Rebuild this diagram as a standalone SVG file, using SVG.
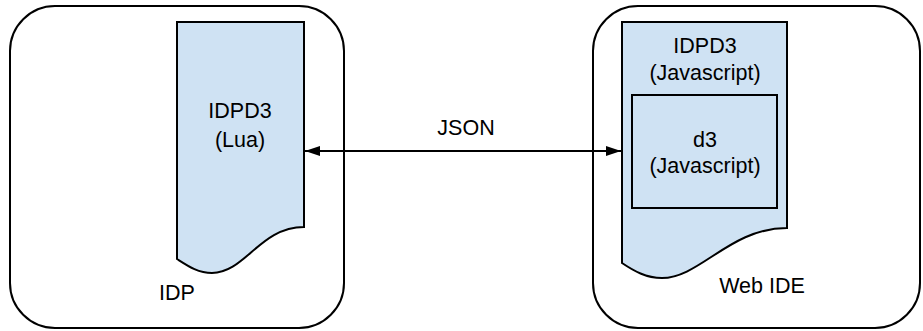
<svg xmlns="http://www.w3.org/2000/svg" width="923" height="331" viewBox="0 0 923 331">
<defs>
<style>
.box{fill:#fff;stroke:#000;stroke-width:2}
.doc{fill:#cfe2f3;stroke:#000;stroke-width:2}
text{font-family:"Liberation Sans",Arial,sans-serif;font-size:21.5px;fill:#000;text-anchor:middle}
.conn{stroke:#000;stroke-width:2;fill:none}
</style>
<marker id="ah" viewBox="0 0 15 10" refX="15" refY="5" markerWidth="15" markerHeight="10" markerUnits="userSpaceOnUse" orient="auto-start-reverse">
<path d="M0,0 L15,5 L0,10 Z" fill="#000"/>
</marker>
</defs>
<g id="idp">
<rect class="box" x="10" y="6" width="334" height="322" rx="45" ry="45"/>
<text x="177" y="300">IDP</text>
</g>
<g id="webide">
<rect class="box" x="593" y="6" width="327" height="322" rx="45" ry="45"/>
<text x="762" y="293">Web IDE</text>
</g>
<g id="idpd3-lua">
<path class="doc" d="M177,22 H304 V227 C260,227 245,273 212,273 C198,273 188,266 177,259 Z"/>
<text x="240" y="118">IDPD3</text>
<text x="240" y="147">(Lua)</text>
</g>
<g id="idpd3-js">
<path class="doc" d="M622,22 H787 V228 C730,228 700,278 662,278 C646,278 634,271 622,263 Z"/>
<text x="705" y="53">IDPD3</text>
<text x="705" y="80">(Javascript)</text>
</g>
<g id="d3-js">
<rect class="doc" x="632" y="95" width="145" height="113"/>
<text x="705" y="147">d3</text>
<text x="705" y="173">(Javascript)</text>
</g>
<g id="connectors">
<line class="conn" x1="305" y1="151" x2="621" y2="151" marker-start="url(#ah)" marker-end="url(#ah)"/>
<text x="466" y="135">JSON</text>
</g>
</svg>
